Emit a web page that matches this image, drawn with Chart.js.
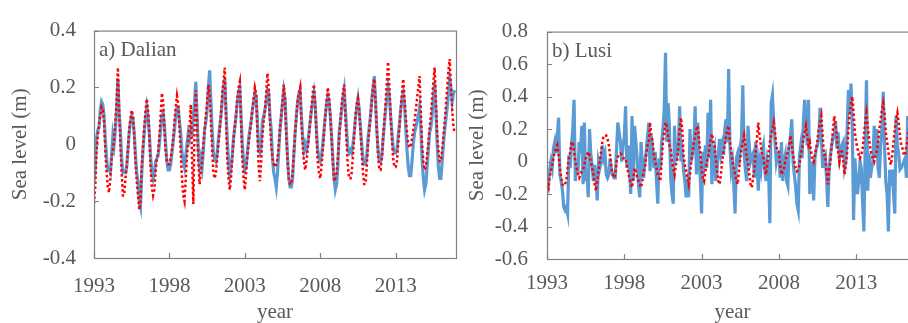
<!DOCTYPE html>
<html>
<head>
<meta charset="utf-8">
<script src="https://cdn.jsdelivr.net/npm/chart.js@4"></script>
<style>
  html, body { margin: 0; padding: 0; background: #fff; overflow: hidden; width: 908px; height: 323px; }
  canvas { position: absolute; top: 0; }
  #dalian { left: 0; }
  #lusi { left: 456px; }
</style>
</head>
<body>
<canvas id="dalian" width="460" height="323"></canvas>
<canvas id="lusi" width="466" height="323"></canvas>
<script>
// monthly values, Jan 1993 .. Dec 2016, one row per year
const startYear = 1993;
const yearTicks = [1993, 1998, 2003, 2008, 2013];

const dalianObserved = [
  -0.13,-0.08,0.02,0.05,0.06,0.12,0.15,0.14,0.1,0.02,-0.05,-0.09,
  -0.09,-0.1,-0.04,0.03,0.0,0.05,0.12,0.23,0.11,0.05,-0.05,-0.1,
  -0.1,-0.1,-0.08,-0.02,0.04,0.08,0.1,0.09,0.04,-0.04,-0.1,-0.13,
  -0.2,-0.22,-0.1,-0.02,0.04,0.09,0.13,0.1,0.04,-0.04,-0.1,-0.12,
  -0.1,-0.06,-0.05,-0.04,0.0,0.05,0.1,0.11,0.07,0.0,-0.06,-0.09,
  -0.09,-0.07,-0.03,0.01,0.05,0.1,0.13,0.13,0.08,0.04,-0.03,-0.06,
  -0.08,-0.04,0.0,0.04,0.02,0.05,0.04,0.1,0.15,0.22,0.1,-0.02,
  -0.08,-0.05,-0.08,-0.02,0.05,0.08,0.12,0.2,0.26,0.15,0.05,-0.03,
  -0.05,-0.06,-0.03,0.02,0.06,0.1,0.15,0.2,0.23,0.12,0.02,-0.06,
  -0.11,-0.08,-0.04,0.02,0.06,0.1,0.15,0.18,0.2,0.1,0.0,-0.06,
  -0.09,-0.08,-0.03,0.02,0.05,0.08,0.12,0.15,0.18,0.17,0.08,-0.02,
  -0.03,0.0,0.08,0.1,0.12,0.15,0.19,0.18,0.1,0.05,-0.05,-0.1,
  -0.12,-0.15,-0.1,-0.02,0.05,0.1,0.15,0.19,0.16,0.05,-0.05,-0.12,
  -0.15,-0.15,-0.12,-0.04,0.04,0.1,0.15,0.18,0.19,0.1,0.03,-0.02,
  0.0,-0.02,0.0,0.04,0.08,0.12,0.15,0.18,0.14,0.05,-0.02,-0.05,
  -0.06,-0.04,0.0,0.05,0.1,0.14,0.17,0.15,0.1,0.03,-0.05,-0.12,
  -0.16,-0.14,-0.08,0.04,0.08,0.12,0.16,0.19,0.12,0.05,-0.02,-0.03,
  -0.02,-0.03,0.0,0.04,0.09,0.13,0.16,0.12,0.06,0.0,-0.05,-0.07,
  -0.07,-0.04,0.02,0.06,0.1,0.16,0.2,0.24,0.15,0.05,-0.02,-0.06,
  -0.06,-0.04,0.02,0.07,0.12,0.16,0.2,0.17,0.1,0.04,-0.01,-0.03,
  -0.03,-0.02,0.03,0.07,0.12,0.16,0.18,0.14,0.06,-0.02,-0.08,-0.11,
  -0.11,-0.06,0.0,0.04,0.06,0.08,0.1,0.13,0.06,-0.05,-0.12,-0.16,
  -0.14,-0.08,-0.02,0.04,0.06,0.1,0.16,0.22,0.12,0.0,-0.08,-0.12,
  -0.12,-0.06,0.0,0.05,0.09,0.13,0.18,0.23,0.2,0.15,0.18,0.19
];

const dalianSimulated = [
  -0.21,-0.15,-0.03,0.03,0.07,0.1,0.13,0.12,0.08,-0.02,-0.1,-0.15,
  -0.17,-0.12,-0.05,-0.02,0.02,0.08,0.15,0.27,0.12,0.0,-0.1,-0.18,
  -0.18,-0.12,-0.08,-0.02,0.05,0.09,0.12,0.1,0.03,-0.06,-0.13,-0.18,
  -0.23,-0.2,-0.08,0.0,0.06,0.12,0.16,0.12,0.03,-0.08,-0.15,-0.18,
  -0.16,-0.1,-0.05,-0.03,0.03,0.1,0.18,0.15,0.05,-0.02,-0.06,-0.07,
  -0.07,-0.05,-0.02,0.02,0.08,0.13,0.17,0.14,0.06,-0.03,-0.12,-0.18,
  -0.2,-0.12,-0.04,0.02,0.06,0.14,-0.05,-0.21,0.05,0.19,0.08,-0.06,
  -0.14,-0.1,-0.06,0.0,0.05,0.1,0.15,0.21,0.18,0.08,-0.02,-0.1,
  -0.12,-0.1,-0.05,0.0,0.05,0.1,0.18,0.22,0.27,0.1,-0.05,-0.12,
  -0.16,-0.12,-0.05,0.02,0.06,0.1,0.16,0.2,0.22,0.08,-0.05,-0.12,
  -0.16,-0.1,-0.04,0.0,0.04,0.08,0.12,0.16,0.2,0.18,0.04,-0.08,
  -0.13,-0.06,0.03,0.08,0.12,0.18,0.25,0.2,0.08,0.0,-0.05,-0.07,
  -0.08,-0.07,-0.05,0.0,0.06,0.1,0.15,0.21,0.15,0.03,-0.06,-0.12,
  -0.14,-0.14,-0.1,-0.03,0.04,0.1,0.15,0.18,0.2,0.08,0.0,-0.06,
  -0.09,-0.06,-0.02,0.03,0.08,0.13,0.18,0.21,0.14,0.03,-0.06,-0.1,
  -0.12,-0.08,-0.02,0.04,0.1,0.15,0.2,0.17,0.1,0.02,-0.06,-0.13,
  -0.12,-0.1,-0.05,0.02,0.08,0.14,0.18,0.21,0.1,0.0,-0.08,-0.12,
  -0.12,-0.1,-0.04,0.03,0.1,0.14,0.16,0.12,0.05,-0.03,-0.1,-0.14,
  -0.14,-0.08,0.0,0.05,0.1,0.15,0.2,0.23,0.15,0.05,-0.04,-0.09,
  -0.09,-0.05,0.02,0.08,0.15,0.22,0.29,0.2,0.1,0.02,-0.05,-0.08,
  -0.08,-0.06,0.0,0.06,0.12,0.18,0.23,0.17,0.1,0.04,0.0,-0.01,
  -0.01,0.02,0.05,0.08,0.12,0.16,0.2,0.24,0.12,0.0,-0.06,-0.09,
  -0.08,-0.04,0.0,0.06,0.1,0.16,0.22,0.27,0.15,0.04,-0.02,-0.06,
  -0.06,-0.02,0.03,0.08,0.14,0.2,0.26,0.3,0.2,0.12,0.06,0.04
];

const lusiObserved = [
  -0.12,-0.15,-0.05,0.0,-0.04,0.08,0.12,0.05,0.15,0.27,-0.08,-0.12,
  -0.18,-0.28,-0.3,-0.28,-0.32,0.04,-0.04,0.1,0.2,0.38,-0.12,0.0,
  -0.08,0.12,0.05,0.22,-0.14,0.24,-0.12,-0.05,-0.22,0.2,0.05,-0.02,
  -0.12,-0.02,-0.1,-0.24,0.0,-0.04,0.0,0.1,0.02,0.05,-0.08,-0.1,
  -0.08,0.02,-0.05,-0.08,-0.1,-0.1,0.08,0.24,0.18,0.12,0.0,0.1,
  0.15,0.34,-0.04,0.1,-0.05,-0.2,0.28,-0.12,0.22,0.12,0.02,-0.14,
  -0.22,0.12,-0.02,-0.1,0.0,0.06,0.15,0.24,-0.06,0.16,0.08,-0.04,
  0.06,-0.12,-0.26,0.02,-0.05,0.12,0.2,0.32,0.67,0.12,0.36,0.22,
  -0.1,-0.2,-0.26,0.22,0.0,0.05,0.1,0.34,0.0,0.05,-0.05,-0.12,
  -0.22,-0.15,-0.22,0.2,0.0,0.05,0.1,0.34,-0.08,0.24,0.02,-0.1,
  -0.32,0.06,0.0,0.1,-0.04,0.3,0.02,0.38,-0.14,0.04,0.08,-0.12,
  -0.05,0.05,0.14,0.05,0.1,0.04,0.2,0.26,0.12,0.57,0.1,-0.05,
  0.0,-0.15,-0.32,0.02,0.05,-0.02,0.08,0.15,0.47,0.05,-0.05,-0.12,
  0.22,0.1,0.0,0.03,0.05,-0.1,0.12,0.0,-0.18,0.0,-0.05,0.06,
  0.1,-0.05,-0.12,0.0,-0.05,-0.38,0.36,0.41,0.24,0.12,0.0,0.05,
  0.05,-0.1,0.12,-0.12,0.0,0.04,-0.12,-0.15,0.1,0.15,0.26,0.0,
  -0.08,-0.15,-0.26,-0.3,0.04,0.1,0.02,0.24,0.38,0.25,0.1,0.38,
  -0.2,-0.08,0.0,-0.24,0.02,0.08,0.1,0.15,0.33,0.15,-0.04,0.02,
  0.04,-0.1,-0.28,-0.05,0.04,0.1,0.15,0.15,0.25,0.08,0.18,0.02,
  0.05,0.1,0.12,-0.04,0.0,0.2,0.44,0.3,0.48,0.2,-0.36,0.02,
  -0.1,-0.2,-0.12,0.0,-0.04,-0.25,-0.43,0.1,0.5,-0.18,0.05,-0.1,
  -0.04,0.0,0.22,0.04,0.2,-0.04,-0.1,0.1,0.2,0.43,0.1,-0.12,
  -0.2,-0.43,-0.05,-0.15,-0.05,-0.2,-0.32,0.28,0.1,0.05,-0.05,-0.04,
  -0.02,0.0,0.02,-0.1,0.28,0.1,-0.05,0.2,0.3,0.15,0.0,-0.1
];

const lusiSimulated = [
  -0.12,-0.18,-0.1,-0.06,-0.02,0.02,0.06,0.08,0.1,0.04,-0.04,-0.1,
  -0.14,-0.15,-0.14,-0.12,-0.04,0.02,0.06,0.12,0.12,0.06,0.0,-0.04,
  -0.08,-0.1,-0.08,-0.06,-0.05,-0.02,0.02,0.04,0.06,0.04,0.0,-0.04,
  -0.08,-0.14,-0.18,-0.12,-0.06,0.0,0.06,0.12,0.16,0.16,0.16,0.14,
  0.1,0.04,-0.04,-0.08,-0.1,-0.08,0.0,0.03,0.04,0.05,0.04,0.02,
  0.02,0.02,-0.02,-0.07,-0.1,-0.14,-0.16,-0.1,-0.04,-0.06,-0.1,-0.12,
  -0.14,-0.16,-0.12,-0.06,-0.04,0.04,0.1,0.12,0.24,0.16,0.12,0.04,
  0.0,-0.04,-0.08,-0.1,-0.12,0.0,0.12,0.18,0.24,0.22,0.16,0.1,
  0.08,0.0,-0.04,-0.08,-0.02,0.0,0.1,0.2,0.27,0.2,0.04,-0.02,
  -0.06,-0.1,-0.14,-0.08,0.0,0.06,0.12,0.16,0.2,0.22,0.14,0.06,
  -0.04,-0.1,-0.12,-0.06,0.0,0.02,0.08,0.14,0.17,0.12,0.1,0.02,
  -0.06,-0.12,-0.14,-0.08,0.0,0.06,0.1,0.16,0.2,0.22,0.12,0.06,
  0.0,-0.04,-0.08,-0.12,-0.14,-0.06,0.02,0.08,0.12,0.16,0.1,0.02,
  0.0,-0.08,-0.14,-0.16,-0.1,-0.04,0.06,0.14,0.24,0.16,0.1,0.04,
  0.02,-0.04,-0.08,-0.02,0.06,0.12,0.16,0.2,0.24,0.18,0.1,0.06,
  0.06,-0.02,-0.08,-0.06,-0.04,0.0,0.04,0.06,0.1,0.16,0.1,0.04,
  0.0,-0.04,-0.06,-0.05,-0.02,0.04,0.08,0.14,0.18,0.22,0.16,0.1,
  0.12,0.06,0.02,0.0,0.04,0.08,0.14,0.2,0.24,0.28,0.16,0.04,
  0.04,-0.06,-0.14,-0.06,0.0,0.1,0.2,0.28,0.22,0.16,0.06,0.0,
  0.06,0.06,0.0,-0.08,-0.02,0.06,0.2,0.3,0.36,0.4,0.3,0.18,
  0.12,0.08,0.04,0.02,0.04,0.08,0.16,0.24,0.3,0.22,0.14,0.08,
  0.04,0.02,0.0,0.04,0.06,0.12,0.2,0.26,0.32,0.36,0.3,0.18,
  0.12,0.06,0.0,-0.02,0.04,0.12,0.2,0.26,0.3,0.24,0.16,0.1,
  0.08,0.04,0.04,0.1,0.14,0.2,0.24,0.22,0.14,0.06,0.0,-0.02
];

const textColor = '#595959';
const axisColor = '#808080';
const blue = '#5b9bd5';
const red = '#ff0000';

Chart.defaults.font.family = '"Liberation Serif", "Times New Roman", serif';
Chart.defaults.font.size = 21;
Chart.defaults.color = textColor;

// monthly values -> {x: decimal year, y}
function toPoints(values) {
  return values.map((v, i) => ({ x: startYear + i / 12, y: v }));
}

// box round the plot area, inward tick marks, panel label
const framePlugin = {
  id: 'frame',
  afterDraw(chart, args, opts) {
    const { ctx, chartArea: a, scales: { x, y } } = chart;
    ctx.save();
    ctx.strokeStyle = axisColor;
    ctx.lineWidth = 1.2;
    ctx.strokeRect(a.left + 0.5, a.top + 0.5, a.right - a.left, a.bottom - a.top);
    ctx.beginPath();
    x.ticks.forEach(t => {
      const px = Math.round(x.getPixelForValue(t.value)) + 0.5;
      ctx.moveTo(px, a.bottom);
      ctx.lineTo(px, a.bottom - 5);
    });
    y.ticks.forEach(t => {
      const py = Math.round(y.getPixelForValue(t.value)) + 0.5;
      ctx.moveTo(a.left, py);
      ctx.lineTo(a.left + 5, py);
    });
    ctx.stroke();
    ctx.fillStyle = textColor;
    ctx.font = '21px "Liberation Serif"';
    ctx.textBaseline = 'alphabetic';
    ctx.fillText(opts.label, a.left + 5, a.top + 25);
    ctx.restore();
  }
};

function makeChart(id, observed, simulated, cfg) {
  return new Chart(document.getElementById(id), {
    type: 'line',
    data: {
      datasets: [
        {
          data: toPoints(simulated),
          borderColor: red,
          borderWidth: 2.5,
          borderDash: [2.5, 2.5],
          pointRadius: 0,
          tension: 0
        },
        {
          data: toPoints(observed),
          borderColor: blue,
          borderWidth: 3.2,
          pointRadius: 0,
          tension: 0
        }
      ]
    },
    options: {
      responsive: false,
      animation: false,
      layout: { padding: { top: cfg.top, right: 4, left: 0, bottom: 0 } },
      plugins: {
        legend: { display: false },
        tooltip: { enabled: false },
        frame: { label: cfg.label }
      },
      scales: {
        x: {
          type: 'linear',
          min: 1993,
          max: 2017,
          afterBuildTicks: s => { s.ticks = yearTicks.map(v => ({ value: v })); },
          afterFit: s => { s.height = cfg.xHeight; },
          grid: { display: false, drawTicks: false },
          border: { display: false },
          ticks: { padding: cfg.xPad, maxRotation: 0, callback: v => String(v) },
          title: {
            display: true,
            text: 'year',
            font: { size: 21, lineHeight: 1 },
            padding: { top: 0, bottom: 0 }
          }
        },
        y: {
          min: cfg.yMin,
          max: cfg.yMax,
          afterFit: s => { s.width = cfg.yWidth; },
          grid: { display: false, drawTicks: false },
          border: { display: false },
          ticks: { stepSize: 0.2, padding: cfg.yPad },
          title: {
            display: true,
            text: 'Sea level (m)',
            font: { size: 21, lineHeight: 1 },
            padding: { top: cfg.titlePad, bottom: 0 }
          }
        }
      }
    },
    plugins: [framePlugin]
  });
}

makeChart('dalian', dalianObserved, dalianSimulated, {
  label: 'a) Dalian', top: 21, xHeight: 65, yWidth: 94,
  yMin: -0.4, yMax: 0.4, xPad: 16, yPad: 18, titlePad: 9.5
});

makeChart('lusi', lusiObserved, lusiSimulated, {
  label: 'b) Lusi', top: 24, xHeight: 64, yWidth: 91,
  yMin: -0.6, yMax: 0.8, xPad: 12, yPad: 19, titlePad: 10.5
});
</script>
</body>
</html>
